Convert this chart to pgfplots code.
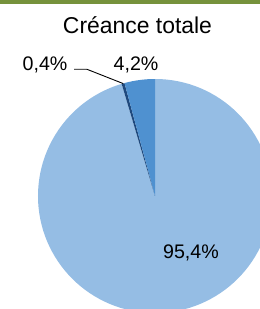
\documentclass[border=0pt]{standalone}
\usepackage{pgfplots}
\pgfplotsset{compat=1.18}
\usepackage{fontspec}
\setmainfont{Liberation Sans}
\definecolor{barGreen}{RGB}{118,146,60}
\definecolor{sliceLight}{RGB}{149,189,228}
\definecolor{sliceMid}{RGB}{79,145,208}
\definecolor{sliceDark}{RGB}{31,73,125}
% pie values (percent), drawn clockwise from 12 o'clock
\def\vA{95.4}
\def\vB{0.4}
\def\vC{4.2}
\begin{document}
\begin{tikzpicture}
\useasboundingbox (0,0) rectangle (260bp,309bp);
\begin{axis}[x=1bp,y=1bp,xmin=0,xmax=260,ymin=0,ymax=309,
  hide axis, scale only axis, anchor=origin, at={(0,0)}, clip=true]
% top band
\addplot[draw=none, fill=barGreen] coordinates {(0,304.5) (260,304.5) (260,309) (0,309)} -- cycle;
% slices
\pgfmathsetmacro{\aS}{90}
\pgfmathsetmacro{\aA}{90-\vA*3.6}
\pgfmathsetmacro{\aB}{\aA-\vB*3.6}
\pgfmathsetmacro{\aC}{\aB-\vC*3.6}
\fill[sliceLight] (axis cs:155,113) -- ++(\aS:117bp) arc[start angle=\aS, end angle=\aA, radius=117bp] -- cycle;
\fill[sliceDark] (axis cs:155,113) -- ++(\aA:117bp) arc[start angle=\aA, end angle=\aB, radius=117bp] -- cycle;
\fill[sliceMid] (axis cs:155,113) -- ++(\aB:117bp) arc[start angle=\aB, end angle=\aC-0.05, radius=117bp] -- cycle;
% leader line
\addplot[black, line width=0.9bp, mark=none] coordinates {(74,239.7) (87,239.7) (123,225.5)};
% labels
\node[font=\fontsize{23}{27}\selectfont] at (axis cs:137.5,284) {Créance totale};
\node[font=\fontsize{19.7}{23}\selectfont] at (axis cs:45,244) {0,4\%};
\node[font=\fontsize{19.7}{23}\selectfont] at (axis cs:136,244) {4,2\%};
\node[font=\fontsize{19.7}{23}\selectfont] at (axis cs:191,56) {95,4\%};
\end{axis}
\end{tikzpicture}
\end{document}
